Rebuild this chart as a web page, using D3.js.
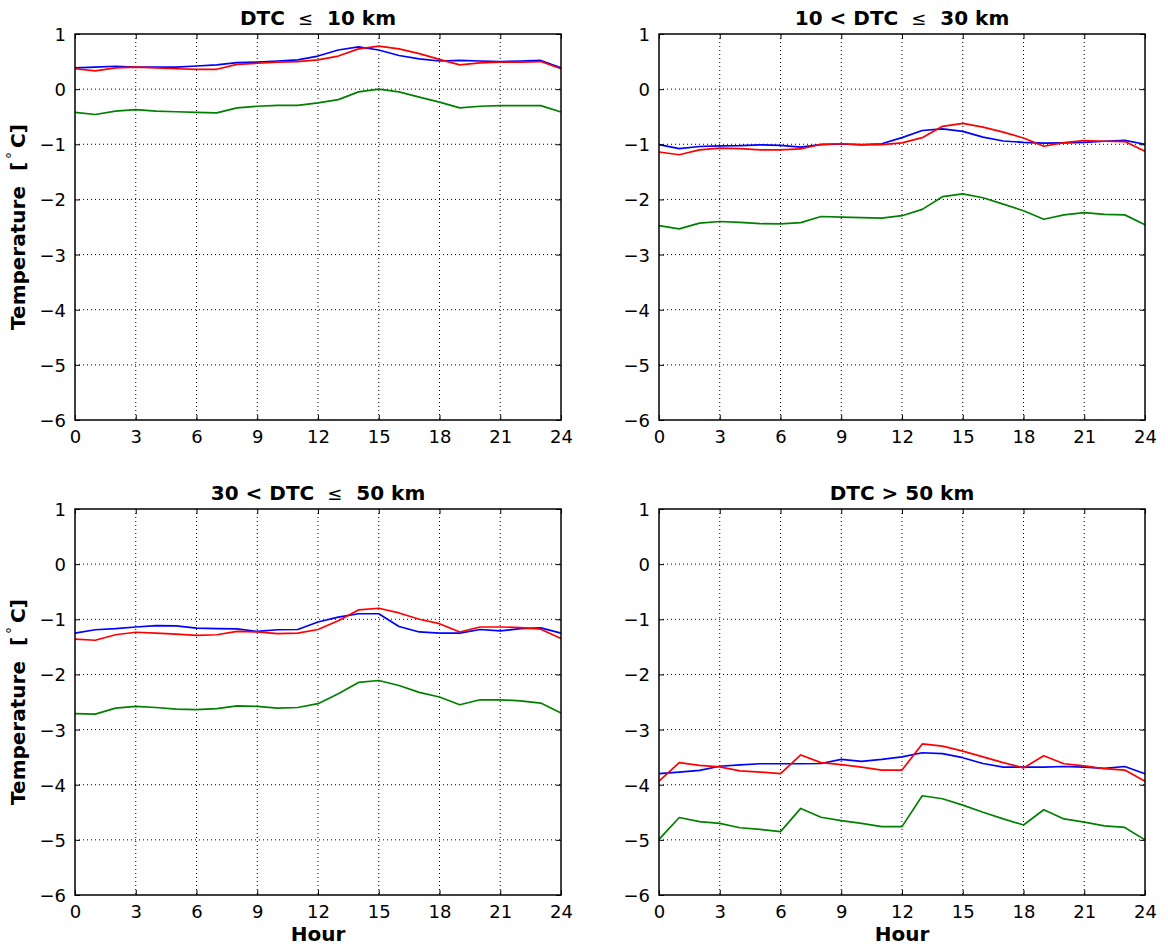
<!DOCTYPE html>
<html><head><meta charset="utf-8">
<script src="https://cdn.jsdelivr.net/npm/d3@7"></script>
<style>body{margin:0;background:#fff}svg{display:block}text{font-family:"DejaVu Sans",sans-serif}</style>
</head><body>
<script>
const hours = d3.range(0, 25);
const xTicks = [0,3,6,9,12,15,18,21,24];
const yTicks = [1,0,-1,-2,-3,-4,-5,-6];

const p1Blue  = [0.385,0.40,0.415,0.40,0.40,0.40,0.42,0.44,0.48,0.49,0.51,0.53,0.60,0.71,0.765,0.71,0.61,0.55,0.51,0.52,0.51,0.50,0.51,0.52,0.385];
const p1Red   = [0.37,0.33,0.385,0.40,0.385,0.37,0.36,0.36,0.45,0.47,0.49,0.50,0.53,0.60,0.73,0.78,0.73,0.645,0.54,0.44,0.475,0.49,0.49,0.50,0.37];
const p1Green = [-0.42,-0.46,-0.40,-0.37,-0.40,-0.41,-0.42,-0.43,-0.34,-0.31,-0.295,-0.295,-0.25,-0.19,-0.05,0.0,-0.05,-0.145,-0.235,-0.34,-0.31,-0.30,-0.30,-0.30,-0.415];

const p2Blue  = [-1.006,-1.08,-1.04,-1.03,-1.025,-1.01,-1.02,-1.05,-1.005,-0.995,-1.005,-0.99,-0.88,-0.75,-0.72,-0.765,-0.87,-0.94,-0.965,-0.98,-0.975,-0.965,-0.945,-0.93,-1.0];
const p2Red   = [-1.14,-1.19,-1.10,-1.07,-1.08,-1.10,-1.10,-1.085,-1.0,-0.99,-1.01,-1.005,-0.975,-0.88,-0.675,-0.62,-0.69,-0.78,-0.885,-1.035,-0.97,-0.935,-0.945,-0.95,-1.125];
const p2Green = [-2.475,-2.535,-2.43,-2.40,-2.415,-2.44,-2.445,-2.42,-2.31,-2.32,-2.33,-2.34,-2.295,-2.18,-1.95,-1.90,-1.97,-2.085,-2.205,-2.36,-2.28,-2.24,-2.27,-2.28,-2.46];

const p3Blue  = [-1.25,-1.19,-1.17,-1.14,-1.115,-1.12,-1.16,-1.17,-1.175,-1.22,-1.19,-1.185,-1.05,-0.96,-0.90,-0.90,-1.13,-1.23,-1.25,-1.25,-1.185,-1.21,-1.17,-1.155,-1.25];
const p3Red   = [-1.36,-1.38,-1.28,-1.235,-1.25,-1.27,-1.29,-1.28,-1.22,-1.23,-1.26,-1.25,-1.185,-1.025,-0.83,-0.80,-0.885,-1.0,-1.08,-1.23,-1.14,-1.14,-1.15,-1.18,-1.35];
const p3Green = [-2.71,-2.72,-2.61,-2.58,-2.60,-2.63,-2.64,-2.62,-2.57,-2.58,-2.61,-2.60,-2.53,-2.35,-2.145,-2.11,-2.20,-2.325,-2.41,-2.55,-2.46,-2.46,-2.48,-2.52,-2.70];

const p4Blue  = [-3.80,-3.77,-3.74,-3.665,-3.64,-3.62,-3.62,-3.62,-3.615,-3.54,-3.575,-3.54,-3.495,-3.42,-3.435,-3.51,-3.615,-3.68,-3.68,-3.68,-3.67,-3.68,-3.705,-3.67,-3.80];
const p4Red   = [-3.935,-3.60,-3.65,-3.675,-3.75,-3.77,-3.80,-3.46,-3.60,-3.635,-3.68,-3.735,-3.735,-3.26,-3.30,-3.39,-3.495,-3.60,-3.695,-3.475,-3.62,-3.66,-3.71,-3.735,-3.935];
const p4Green = [-4.99,-4.595,-4.67,-4.70,-4.78,-4.81,-4.85,-4.43,-4.59,-4.65,-4.70,-4.76,-4.76,-4.20,-4.255,-4.37,-4.50,-4.62,-4.73,-4.455,-4.62,-4.68,-4.745,-4.775,-5.00];

const panels = [
  {title:["DTC", "≤", "10 km"], left:75, top:34, blue:p1Blue, red:p1Red, green:p1Green, ylab:true, xlab:false},
  {title:["10 < DTC", "≤", "30 km"], left:659, top:34, blue:p2Blue, red:p2Red, green:p2Green, ylab:false, xlab:false},
  {title:["30 < DTC", "≤", "50 km"], left:75, top:509, blue:p3Blue, red:p3Red, green:p3Green, ylab:true, xlab:true},
  {title:["DTC > 50 km"], left:659, top:509, blue:p4Blue, red:p4Red, green:p4Green, ylab:false, xlab:true}
];
const W = 486, H = 386;
const colors = {blue:"#0000ff", red:"#ff0000", green:"#008000"};

const svg = d3.select("body").append("svg").attr("width",1168).attr("height",945);

panels.forEach(p => {
  const g = svg.append("g").attr("transform",`translate(${p.left},${p.top})`);
  const x = d3.scaleLinear().domain([0,24]).range([0,W]);
  const y = d3.scaleLinear().domain([-6,1]).range([H,0]);

  // grid
  g.append("g").selectAll("line").data(xTicks.slice(1,-1)).join("line")
    .attr("x1",d=>x(d)).attr("x2",d=>x(d)).attr("y1",0).attr("y2",H)
    .attr("stroke","#000").attr("stroke-width",1).attr("stroke-dasharray","1,3");
  g.append("g").selectAll("line").data(yTicks.slice(1,-1)).join("line")
    .attr("y1",d=>y(d)).attr("y2",d=>y(d)).attr("x1",0).attr("x2",W)
    .attr("stroke","#000").attr("stroke-width",1).attr("stroke-dasharray","1,3");

  // lines
  const line = d3.line().x((d,i)=>x(hours[i])).y(d=>y(d));
  ["blue","red","green"].forEach(k => {
    g.append("path").datum(p[k]).attr("d",line).attr("fill","none")
      .attr("stroke",colors[k]).attr("stroke-width",1.7).attr("stroke-linejoin","round");
  });

  // axes with inward ticks
  const ax = g.append("g").attr("transform",`translate(0,${H})`)
    .call(d3.axisBottom(x).tickValues(xTicks).tickSizeInner(-5).tickSizeOuter(0).tickPadding(10));
  const axT = g.append("g").call(d3.axisTop(x).tickValues(xTicks).tickSizeInner(-5).tickSizeOuter(0).tickFormat(""));
  const ay = g.append("g").call(d3.axisLeft(y).tickValues(yTicks).tickSizeInner(-5).tickSizeOuter(0).tickPadding(9)
    .tickFormat(d => d < 0 ? "\u2212" + Math.abs(d) : d));
  const ayR = g.append("g").attr("transform",`translate(${W},0)`)
    .call(d3.axisRight(y).tickValues(yTicks).tickSizeInner(-5).tickSizeOuter(0).tickFormat(""));
  [ax,axT,ay,ayR].forEach(a => {
    a.select(".domain").remove();
    a.selectAll(".tick line").attr("stroke","#000").attr("stroke-width",1);
    a.selectAll(".tick text").attr("font-size",18).attr("fill","#000").attr("font-family","DejaVu Sans");
  });
  ay.selectAll(".tick text").attr("dy","0.36em");
  ax.selectAll(".tick text").attr("dy","0.72em");

  g.append("rect").attr("width",W).attr("height",H).attr("fill","none")
    .attr("stroke","#000").attr("stroke-width",1.5);

  // title
  const t = g.append("text").attr("x",W/2).attr("y",-9).attr("text-anchor","middle")
    .attr("font-size",20).attr("font-weight","bold").attr("fill","#000");
  p.title.forEach((s,i) => {
    const ts = t.append("tspan").text(s);
    if (s === "≤") { ts.attr("font-weight","normal").attr("font-size",18).attr("dx",13); }
    else if (i > 0) { ts.attr("dx",14); }
  });

  if (p.ylab) {
    const yl = g.append("text").attr("transform",`translate(-50,${H/2}) rotate(-90)`)
      .attr("text-anchor","middle").attr("font-size",20).attr("font-weight","bold").attr("fill","#000");
    yl.append("tspan").text("Temperature");
    yl.append("tspan").text("[").attr("dx",15);
    yl.append("tspan").text("°").attr("font-weight","normal").attr("font-size",14).attr("dx",3).attr("dy",-8);
    yl.append("tspan").text("C").attr("dx",4).attr("dy",8);
    yl.append("tspan").text("]");
  }
  if (p.xlab) {
    g.append("text").attr("x",W/2).attr("y",H+46).attr("text-anchor","middle")
      .attr("font-size",20).attr("font-weight","bold").attr("fill","#000").text("Hour");
  }
});
</script>
</body></html>
